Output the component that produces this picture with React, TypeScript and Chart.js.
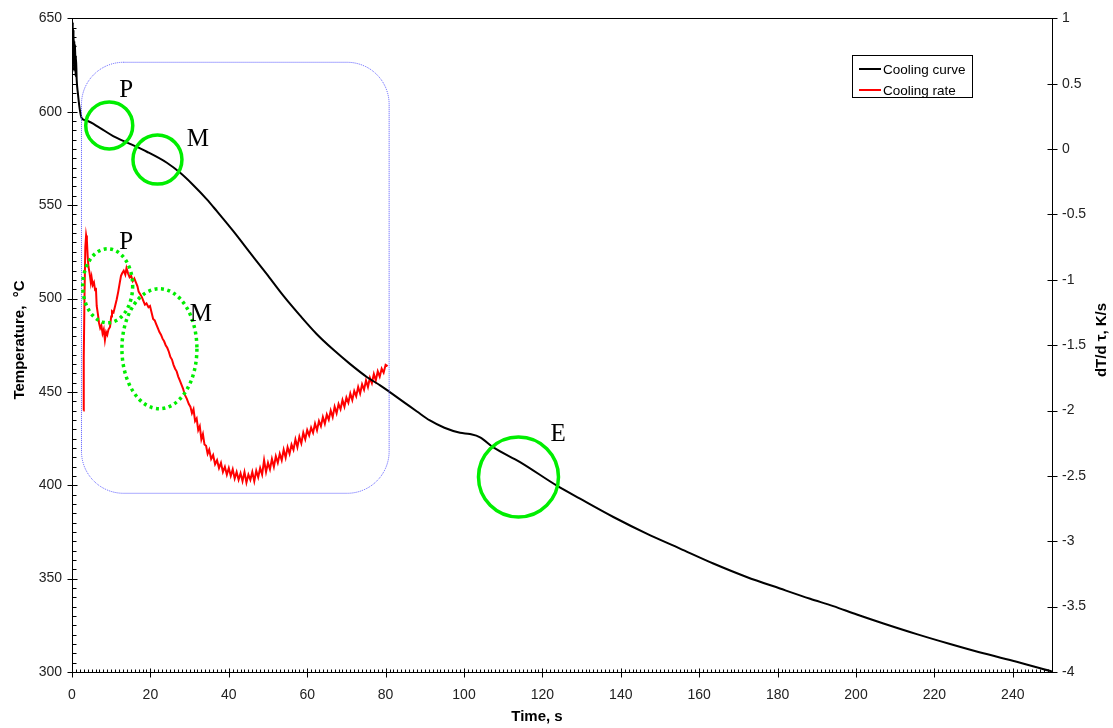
import React, { useEffect, useRef } from 'react';
import { Chart, registerables } from 'chart.js';

Chart.register(...registerables);

// ---------- data ----------
const seriesLabels = ['Cooling curve', 'Cooling rate'];

const coolTime = [
  0.0, 0.1, 0.2, 0.3, 0.4, 0.5, 0.6, 0.7, 0.8, 0.9, 1.0, 1.2, 1.5, 2.0, 2.5, 3.7, 7.1, 10.5, 14.8, 19.1,
  24.2, 27.6, 30.9, 34.4, 36.9, 41.1, 45.4, 49.7, 53.9, 58.2, 62.4, 66.7, 70.9, 75.2, 78.6, 81.0, 85.0,
  88.0, 91.3, 95.0, 99.0, 101.5, 104.1, 107.4, 114.3, 123.6, 129.6, 138.1, 146.6, 155.1, 163.6, 172.1,
  180.6, 188.3, 194.2, 200.2, 207.0, 215.5, 224.0, 232.5, 241.0, 250.0,
];
const coolTemp = [
  640, 632, 648, 626, 644, 622, 638, 624, 636, 619, 630, 617, 610, 601, 596.5, 595.3, 591.4, 587.0, 582.8, 578.6,
  572.7, 567.3, 560.8, 553.1, 546.9, 536.2, 524.6, 513.0, 501.5, 490.8, 481.0, 472.5, 465.0, 458.0, 453.5, 450.0, 444.0,
  439.5, 434.7, 430.8, 428.1, 427.4, 425.7, 420.4, 412.4, 399.9, 392.8, 383.0, 374.1, 366.1, 358.1, 350.9,
  344.7, 339.2, 335.3, 330.8, 326.0, 320.3, 315.0, 310.0, 305.5, 300.3,
];

const rateTime = [
  2.9, 3.0, 3.2, 3.4, 3.6, 3.8, 4.0, 4.2, 4.5, 4.8, 5.0, 5.3, 5.6, 5.9, 6.1, 6.3, 6.6, 6.9, 7.2, 7.5,
  7.8, 8.1, 8.4, 8.7, 9.0, 9.3, 9.7, 10.0, 10.2, 10.6, 11.0, 11.4, 11.8, 12.2, 12.5, 12.8, 13.2, 13.6, 13.9, 14.3,
  14.7, 15.1, 15.5, 15.9, 16.3, 16.7, 17.0, 17.4, 17.8, 18.2, 18.6, 19.0, 19.5, 19.9, 20.3, 20.7, 21.1, 21.5, 21.9, 22.3,
  22.7, 23.1, 23.5, 23.9, 24.3, 24.7, 25.1, 25.5, 25.9, 26.3, 26.7, 27.1, 27.5, 27.9, 28.3, 28.8, 29.3, 29.8, 30.2, 30.6,
  31.0, 31.4, 31.8, 32.2, 32.6, 33.0, 33.4, 33.8, 34.2, 34.6, 35.0, 35.5, 36.0, 36.5, 37.0, 37.5, 38.0, 38.5, 39.0, 39.5,
  40.0, 40.5, 41.0, 41.5, 42.0, 42.5, 43.0, 43.5, 44.0, 44.5, 45.0, 45.5, 46.0, 46.5, 47.0, 47.5, 48.0, 48.5, 49.0, 49.5,
  50.0, 50.5, 51.0, 51.5, 52.0, 52.5, 53.0, 53.5, 54.0, 54.5, 55.0, 55.5, 56.0, 56.5, 57.0, 57.5, 58.0, 58.5, 59.0, 59.5,
  60.0, 60.5, 61.0, 61.5, 62.0, 62.5, 63.0, 63.5, 64.0, 64.5, 65.0, 65.5, 66.0, 66.5, 67.0, 67.5, 68.0, 68.5, 69.0, 69.5,
  70.0, 70.5, 71.0, 71.5, 72.0, 72.5, 73.0, 73.5, 74.0, 74.5, 75.0, 75.5, 76.0, 76.5, 77.0, 77.5, 78.0, 78.5, 79.0, 79.5,
  80.0, 80.5,
];
const rateValue = [
  -2.0, -1.6, -1.1, -0.75, -0.66, -0.7, -0.82, -0.9, -0.95, -1.02, -0.98, -1.04, -1.02, -1.08, -1.06, -1.2, -1.26, -1.33, -1.37, -1.35,
  -1.41, -1.38, -1.46, -1.4, -1.42, -1.38, -1.36, -1.28, -1.24, -1.25, -1.2, -1.15, -1.09, -1.02, -0.97, -0.95, -0.93, -0.96, -0.91, -0.95,
  -0.98, -0.97, -1.01, -0.99, -1.02, -1.05, -1.09, -1.11, -1.13, -1.16, -1.19, -1.18, -1.21, -1.2, -1.25, -1.3, -1.31, -1.34, -1.37, -1.4,
  -1.42, -1.45, -1.47, -1.5, -1.52, -1.55, -1.59, -1.61, -1.65, -1.68, -1.7, -1.74, -1.77, -1.8, -1.83, -1.88, -1.91, -1.95, -1.97, -2.02,
  -1.99, -2.08, -2.06, -2.15, -2.12, -2.22, -2.18, -2.26, -2.27, -2.33, -2.30, -2.37, -2.34, -2.41, -2.38, -2.44, -2.40, -2.47, -2.43, -2.49,
  -2.44, -2.50, -2.45, -2.52, -2.47, -2.53, -2.48, -2.54, -2.47, -2.55, -2.49, -2.53, -2.47, -2.54, -2.46, -2.51, -2.44, -2.49, -2.38, -2.47,
  -2.40, -2.45, -2.37, -2.43, -2.35, -2.40, -2.33, -2.38, -2.30, -2.36, -2.28, -2.33, -2.26, -2.30, -2.22, -2.28, -2.20, -2.25, -2.17, -2.22,
  -2.15, -2.19, -2.13, -2.17, -2.10, -2.15, -2.08, -2.12, -2.05, -2.10, -2.03, -2.07, -2.00, -2.05, -1.97, -2.02, -1.95, -1.99, -1.92, -1.97,
  -1.90, -1.94, -1.87, -1.92, -1.85, -1.89, -1.82, -1.87, -1.80, -1.84, -1.77, -1.82, -1.75, -1.79, -1.72, -1.77, -1.70, -1.74, -1.68, -1.71,
  -1.65, -1.66,
];

const timeTicks = [0, 20, 40, 60, 80, 100, 120, 140, 160, 180, 200, 220, 240];
const tempTicks = [300, 350, 400, 450, 500, 550, 600, 650];
const rateTicks = [-4, -3.5, -3, -2.5, -2, -1.5, -1, -0.5, 0, 0.5, 1];

const xTitle = 'Time, s';
const yTitle = 'Temperature,  °C';
const y2Title = 'dT/d \u03c4, K/s';

// annotation anchors (data units: time s, temperature °C)
const circleLabels = ['P', 'M', 'E'];
const circleTime = [9.5, 21.8, 113.9];
const circleTemp = [592.7, 574.4, 404.4];
const ellipseLabels = ['P', 'M'];
const ellipseTime = [9.1, 22.3];
const ellipseTemp = [506.8, 473.1];
const labelTime = [13.8, 32.1, 124.0, 13.8, 32.9];
const labelTemp = [612.0, 585.9, 427.7, 530.3, 491.8];
const labelText = ['P', 'M', 'E', 'P', 'M'];
const boxTime = [2.42, 80.9];
const boxTemp = [626.5, 395.7];

// ---------- styles ----------
const circleRadius = [23.5, 24.5, 40];
const ellipseRadius = [
  [25, 37],
  [37.5, 60],
];
const GREEN = '#00ee00';
const tickFont = { family: "'Liberation Sans', Arial, sans-serif", size: 14 };

const decorPlugin = {
  id: 'decor',
  afterDatasetsDraw(chart: any) {
    const { ctx, chartArea: a, scales } = chart;
    const xs = scales.x;
    const ys = scales.y;
    const y2s = scales.y2;
    ctx.save();

    // top frame line
    ctx.strokeStyle = '#000';
    ctx.lineWidth = 1;
    ctx.beginPath();
    ctx.moveTo(a.left, Math.round(a.top) + 0.5);
    ctx.lineTo(a.right, Math.round(a.top) + 0.5);
    ctx.stroke();

    // tick marks
    ctx.beginPath();
    const bottom = Math.round(a.bottom) + 0.5;
    for (let v = 0; v <= 250; v += 1) {
      const px = Math.round(xs.getPixelForValue(v)) + 0.5;
      if (v % 20 === 0) {
        ctx.moveTo(px, bottom - 4);
        ctx.lineTo(px, bottom + 5);
      } else {
        ctx.moveTo(px, bottom - 3);
        ctx.lineTo(px, bottom);
      }
    }
    const left = Math.round(a.left) + 0.5;
    for (let v = 300; v <= 650; v += 5) {
      const py = Math.round(ys.getPixelForValue(v)) + 0.5;
      if (v % 50 === 0) {
        ctx.moveTo(left - 5, py);
        ctx.lineTo(left + 5, py);
      } else {
        ctx.moveTo(left, py);
        ctx.lineTo(left + 4, py);
      }
    }
    const right = Math.round(a.right) + 0.5;
    for (const v of rateTicks) {
      const py = Math.round(y2s.getPixelForValue(v)) + 0.5;
      ctx.moveTo(right - 5, py);
      ctx.lineTo(right + 5, py);
    }
    ctx.stroke();

    // blue rounded box
    const bx0 = xs.getPixelForValue(boxTime[0]);
    const bx1 = xs.getPixelForValue(boxTime[1]);
    const by0 = ys.getPixelForValue(boxTemp[0]);
    const by1 = ys.getPixelForValue(boxTemp[1]);
    ctx.strokeStyle = '#5555ff';
    ctx.lineWidth = 1;
    ctx.setLineDash([1, 1]);
    ctx.beginPath();
    (ctx as any).roundRect(bx0, by0, bx1 - bx0, by1 - by0, 42);
    ctx.stroke();

    // green circles
    ctx.setLineDash([]);
    ctx.strokeStyle = GREEN;
    ctx.lineWidth = 3.5;
    circleLabels.forEach((_, i) => {
      const cx = xs.getPixelForValue(circleTime[i]);
      const cy = ys.getPixelForValue(circleTemp[i]);
      ctx.beginPath();
      ctx.arc(cx, cy, circleRadius[i], 0, Math.PI * 2);
      ctx.stroke();
    });

    // dotted ellipses
    ctx.setLineDash([3, 3.5]);
    ctx.lineWidth = 3.5;
    ellipseLabels.forEach((_, i) => {
      const cx = xs.getPixelForValue(ellipseTime[i]);
      const cy = ys.getPixelForValue(ellipseTemp[i]);
      ctx.beginPath();
      ctx.ellipse(cx, cy, ellipseRadius[i][0], ellipseRadius[i][1], 0, 0, Math.PI * 2);
      ctx.stroke();
    });
    ctx.setLineDash([]);

    // letters
    ctx.fillStyle = '#000';
    ctx.font = "25px 'Liberation Serif', 'Times New Roman', serif";
    ctx.textAlign = 'center';
    ctx.textBaseline = 'middle';
    labelText.forEach((t, i) => {
      ctx.fillText(t, xs.getPixelForValue(labelTime[i]), ys.getPixelForValue(labelTemp[i]) + 1);
    });

    // legend
    const lx = 852;
    const ly = 55;
    ctx.fillStyle = '#fff';
    ctx.fillRect(lx, ly, 120, 42);
    ctx.strokeStyle = '#000';
    ctx.lineWidth = 1;
    ctx.strokeRect(lx + 0.5, ly + 0.5, 120, 42);
    ctx.font = "13.5px 'Liberation Sans', Arial, sans-serif";
    ctx.textAlign = 'left';
    ctx.textBaseline = 'middle';
    chart.data.datasets.forEach((ds: any, i: number) => {
      const yy = ly + 14 + i * 21;
      ctx.strokeStyle = ds.borderColor;
      ctx.lineWidth = 2;
      ctx.beginPath();
      ctx.moveTo(lx + 7, yy);
      ctx.lineTo(lx + 29, yy);
      ctx.stroke();
      ctx.fillStyle = '#000';
      ctx.fillText(ds.label, lx + 31, yy + 1);
    });

    // axis titles
    ctx.fillStyle = '#000';
    ctx.font = "bold 15px 'Liberation Sans', Arial, sans-serif";
    ctx.textAlign = 'center';
    ctx.textBaseline = 'middle';
    ctx.fillText(xTitle, 537, 717);
    ctx.save();
    ctx.translate(20, 340);
    ctx.rotate(-Math.PI / 2);
    ctx.fillText(yTitle, 0, 0);
    ctx.restore();
    ctx.save();
    ctx.translate(1102, 340);
    ctx.rotate(-Math.PI / 2);
    ctx.fillText(y2Title, 0, 0);
    ctx.restore();

    ctx.restore();
  },
};

export default function App() {
  const ref = useRef<HTMLCanvasElement | null>(null);
  useEffect(() => {
    if (!ref.current) return;
    const commonAxis = {
      type: 'linear' as const,
      grid: { display: false, drawTicks: false },
      border: { display: true, color: '#000', width: 1 },
    };
    const chart = new Chart(ref.current, {
      type: 'line',
      data: {
        datasets: [
          {
            label: seriesLabels[0],
            data: coolTime.map((t, i) => ({ x: t, y: coolTemp[i] })),
            borderColor: '#000000',
            backgroundColor: '#000000',
            borderWidth: 2,
            pointRadius: 0,
            cubicInterpolationMode: 'monotone',
            yAxisID: 'y',
          },
          {
            label: seriesLabels[1],
            data: rateTime.map((t, i) => ({ x: t, y: rateValue[i] })),
            borderColor: '#ff0000',
            backgroundColor: '#ff0000',
            borderWidth: 2,
            pointRadius: 0,
            tension: 0,
            yAxisID: 'y2',
          },
        ],
      },
      options: {
        responsive: false,
        animation: false,
        layout: { padding: { top: 17, left: 0, right: 0, bottom: 0 } },
        plugins: { legend: { display: false }, tooltip: { enabled: false } },
        scales: {
          x: {
            ...commonAxis,
            position: 'bottom',
            min: 0,
            max: 250,
            ticks: { padding: 15, font: tickFont, color: '#222', maxRotation: 0, autoSkip: false, callback: (v: any) => String(v) },
            afterBuildTicks: (s: any) => {
              s.ticks = timeTicks.map((v) => ({ value: v }));
            },
            afterFit: (s: any) => {
              s.height = 56;
            },
          },
          y: {
            ...commonAxis,
            position: 'left',
            min: 300,
            max: 650,
            ticks: { padding: 10, font: tickFont, color: '#222', callback: (v: any) => String(v) },
            afterBuildTicks: (s: any) => {
              s.ticks = tempTicks.map((v) => ({ value: v }));
            },
            afterFit: (s: any) => {
              s.width = 72;
            },
          },
          y2: {
            ...commonAxis,
            position: 'right',
            min: -4,
            max: 1,
            ticks: { padding: 10, font: tickFont, color: '#222', callback: (v: any) => String(v) },
            afterBuildTicks: (s: any) => {
              s.ticks = rateTicks.map((v) => ({ value: v }));
            },
            afterFit: (s: any) => {
              s.width = 61;
            },
          },
        },
      } as any,
      plugins: [decorPlugin],
    });
    return () => chart.destroy();
  }, []);
  return (
    <div style={{ position: 'fixed', left: 0, top: 0, width: 1113, height: 728, background: '#fff' }}>
      <canvas ref={ref} width={1113} height={728} style={{ display: 'block' }} />
    </div>
  );
}
